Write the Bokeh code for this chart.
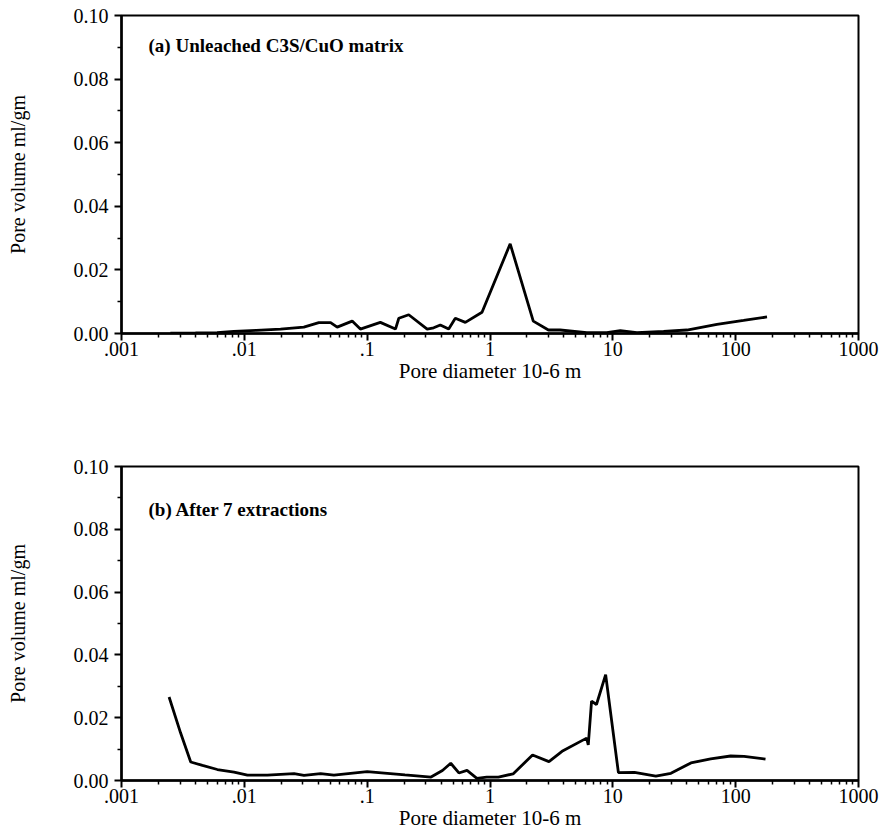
from bokeh.plotting import figure
from bokeh.layouts import column
from bokeh.models import FixedTicker, Range1d, Label, ColumnDataSource
from bokeh.embed import file_html
from bokeh.resources import INLINE

# ---- data ----
diam_a = [0.0025, 0.004, 0.006, 0.0082, 0.0125, 0.0197, 0.0305, 0.0404, 0.0504, 0.057,
          0.0755, 0.088, 0.128, 0.170, 0.181, 0.218, 0.308, 0.348, 0.394, 0.461,
          0.522, 0.630, 0.861, 1.46, 2.25, 2.99, 3.72, 6.14, 8.93, 11.5,
          15.7, 25.9, 40.1, 70.4, 116, 180]
vol_a = [0.0001, 0.0002, 0.0003, 0.0007, 0.0010, 0.0014, 0.0020, 0.0034, 0.0034, 0.0020,
         0.0039, 0.0014, 0.0035, 0.0014, 0.0048, 0.0059, 0.0014, 0.0018, 0.0027, 0.0014,
         0.0048, 0.0035, 0.0067, 0.0282, 0.0039, 0.0011, 0.0011, 0.0003, 0.0003, 0.0009,
         0.0003, 0.0007, 0.0011, 0.0029, 0.0041, 0.0052]

diam_b = [0.00244, 0.00303, 0.00366, 0.00456, 0.00603, 0.00824, 0.0106, 0.0154, 0.0254, 0.0306,
          0.0418, 0.0536, 0.0733, 0.100, 0.146, 0.203, 0.331, 0.41, 0.479, 0.558,
          0.65, 0.782, 0.94, 1.17, 1.54, 2.22, 3.02, 3.86, 6.12, 6.31,
          6.71, 7.36, 8.74, 11.1, 15.0, 22.4, 29.7, 43.2, 62.6, 91.0,
          117, 175]
vol_b = [0.0266, 0.0151, 0.0059, 0.0048, 0.0035, 0.0027, 0.0017, 0.0017, 0.0022, 0.0016,
         0.0022, 0.0017, 0.0023, 0.0028, 0.0023, 0.0018, 0.0011, 0.0032, 0.0055, 0.0024,
         0.0032, 0.0007, 0.0011, 0.0011, 0.0021, 0.0081, 0.0060, 0.0093, 0.0135, 0.0113,
         0.0253, 0.0242, 0.0337, 0.0025, 0.0026, 0.0014, 0.0023, 0.0056, 0.0069, 0.0078,
         0.0077, 0.0068]

x_ticks = [0.001, 0.01, 0.1, 1, 10, 100, 1000]
x_tick_labels = [".001", ".01", ".1", "1", "10", "100", "1000"]
y_ticks = [0.0, 0.02, 0.04, 0.06, 0.08, 0.10]
y_tick_labels = ["0.00", "0.02", "0.04", "0.06", "0.08", "0.10"]
y_minor = [0.01, 0.03, 0.05, 0.07, 0.09]

titles = ["(a)  Unleached C3S/CuO  matrix", "(b)  After  7  extractions"]
x_title = "Pore diameter 10-6 m"
y_title = "Pore volume ml/gm"

FONT = "Liberation Serif"
x_minor = [m * 10.0 ** e for e in range(-3, 3) for m in range(2, 10)]


def make_panel(xs, ys, title, border_top, frame_h, title_y):
    p = figure(x_axis_type="log", x_range=Range1d(0.001, 1000), y_range=Range1d(0, 0.10),
               frame_width=737, frame_height=frame_h,
               min_border_left=121, min_border_right=30, min_border_top=border_top,
               min_border_bottom=0, output_backend="svg", toolbar_location=None)
    p.grid.visible = False
    p.background_fill_color = "white"
    p.border_fill_color = "white"
    p.outline_line_color = "black"
    p.outline_line_width = 2
    p.outline_line_alpha = 1

    src = ColumnDataSource(dict(x=xs, y=ys))
    p.line("x", "y", source=src, line_color="black", line_width=2.8)

    xa = p.xaxis[0]
    xa.ticker = FixedTicker(ticks=x_ticks, minor_ticks=x_minor)
    xa.major_label_overrides = dict(zip(x_ticks, x_tick_labels))
    xa.axis_label = x_title
    ya = p.yaxis[0]
    ya.ticker = FixedTicker(ticks=y_ticks, minor_ticks=y_minor)
    ya.major_label_overrides = dict(zip(y_ticks, y_tick_labels))
    ya.axis_label = y_title

    for ax in (xa, ya):
        ax.axis_line_width = 2.5
        ax.axis_line_color = "black"
        ax.major_tick_in = 0
        ax.major_tick_out = 7
        ax.minor_tick_in = 0
        ax.minor_tick_out = 4
        ax.major_tick_line_width = 2
        ax.minor_tick_line_width = 1.5
        ax.major_label_text_font = FONT
        ax.major_label_text_font_size = "20px"
        ax.major_label_text_color = "black"
        ax.axis_label_text_font = FONT
        ax.axis_label_text_font_style = "normal"
        ax.axis_label_text_color = "black"
    xa.axis_label_text_font_size = "21px"
    ya.axis_label_text_font_size = "20px"
    xa.major_label_standoff = 1
    xa.axis_label_standoff = 0
    ya.major_label_standoff = 6
    ya.axis_label_standoff = 42

    p.add_layout(Label(x=0.00166, y=title_y, text=title, text_font=FONT,
                       text_font_size="19px", text_font_style="bold",
                       text_baseline="middle", text_color="black"))
    return p


p1 = make_panel(diam_a, vol_a, titles[0], 15, 318, 0.0906)
p2 = make_panel(diam_b, vol_b, titles[1], 81, 314, 0.0862)

layout = column(p1, p2, spacing=0)
open("out.html", "w").write(file_html(layout, INLINE))
